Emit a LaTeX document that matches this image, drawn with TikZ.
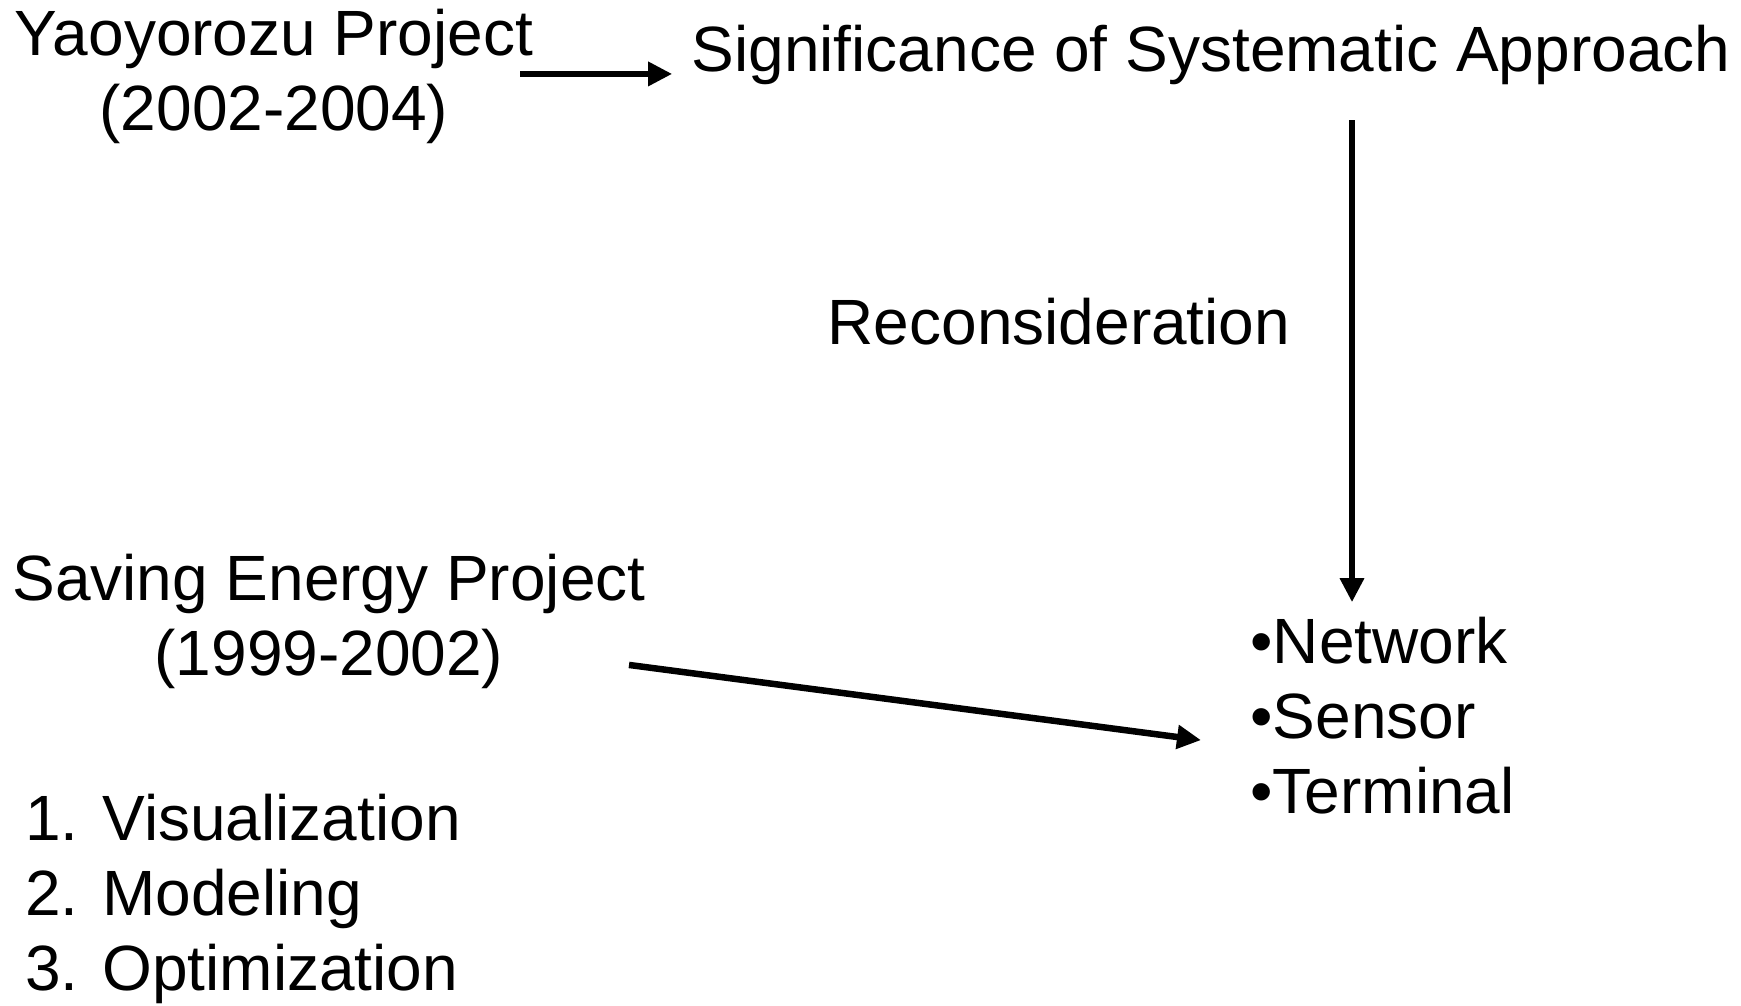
\documentclass[tikz,border=0pt]{standalone}
\usepackage{fontspec}
\setmainfont{Liberation Sans}
\usetikzlibrary{arrows.meta}

\begin{document}
\begin{tikzpicture}[x=0.5pt, y=-0.5pt,
                    every node/.style={inner sep=0pt, font=\fontsize{32}{37.5}\selectfont},
                    label text/.style={anchor=base, align=center},
                    list text/.style={anchor=base west, align=left},
                    link/.style={-{Triangle[length=12pt,width=11.5pt]}, line width=3.25pt},]
    \useasboundingbox (0,0) rectangle (1741,1006);
    \node[label text] (yao) at (274,131) {Yaoyorozu Project\\(2002-2004)};
    \node[label text] (sig) at (1211,72) {Significance of Systematic Approach};
    \node[label text] (rec) at (1059,344) {Reconsideration};
    \node[label text] (saving) at (329,675) {Saving Energy Project\\(1999-2002)};
    \node[list text] (items) at (1250,813) {•Network\\•Sensor\\•Terminal};
    \node[list text] (steps) at (25,990) {1. Visualization\\2. Modeling\\3. Optimization};
    \coordinate (down) at ([xshift=51pt]items.north west);
    \draw[link, shorten >=9.5pt] ([xshift=-6.5pt,yshift=1.5pt]yao.east) -- ([yshift=1.5pt]yao.east -| sig.west);
    \draw[link, shorten <=17.3pt, shorten >=7pt] (down |- sig.south) -- (down);
    \draw[link] ([xshift=-8.5pt,yshift=-22pt]saving.east) -- ([xshift=-24.5pt,yshift=-12.5pt]items.west);
\end{tikzpicture}
\end{document}
